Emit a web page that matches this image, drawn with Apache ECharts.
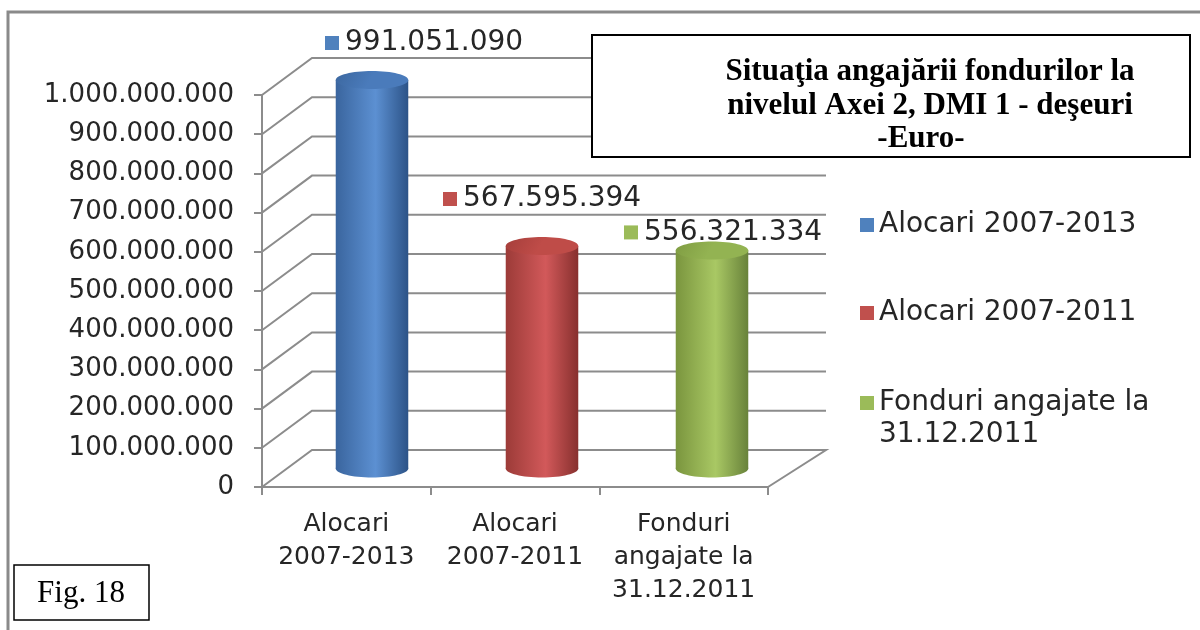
<!DOCTYPE html>
<html>
<head>
    <meta charset="utf-8">
    <title>Fig. 18</title>
    <script src="https://cdn.jsdelivr.net/npm/echarts@6/dist/echarts.min.js"></script>
    <style>html, body { margin: 0; background: #fff; }</style>
</head>
<body>
    <div id="main" style="width: 1200px;height:630px;"></div>
    <script type="text/javascript">
        var categories = ['Alocari\n2007-2013', 'Alocari\n2007-2011', 'Fonduri\nangajate la\n31.12.2011'];
        var seriesNames = ['Alocari 2007-2013', 'Alocari 2007-2011', 'Fonduri angajate la\n31.12.2011'];
        var values = [991051090, 567595394, 556321334];
        var yTicks = [0, 100000000, 200000000, 300000000, 400000000, 500000000,
                      600000000, 700000000, 800000000, 900000000, 1000000000];

        // styles
        var colors = ['#4f81bd', '#c0504d', '#9bbb59'];
        var bodyStops = [
            ['#3a659e', '#5c90d2', '#2c5387'],
            ['#9c3b38', '#d2595a', '#87302e'],
            ['#7a953e', '#a9c864', '#68823a']
        ];
        var topColors = [['#3c679f', '#4a7bbb'], ['#a53e3b', '#bf4c48'], ['#7f9c42', '#93b352']];
        var labelOffsets = [[-40, -37], [-92, -47], [-81, -18]];
        var gridColor = '#8c8c8c';
        var font = 'DejaVu Sans';

        function fmt(v) {
            return String(v).replace(/\B(?=(\d{3})+(?!\d))/g, '.');
        }

        // oblique depth of the 3d box, a bit wider on the right side
        function depth(x, rect) {
            var t = (x - rect.x) / rect.width;
            return [50 + 8 * t, -37];
        }

        function renderWall(params, api) {
            var rect = params.coordSys;
            var v = api.value(1);
            var y = api.coord([0, v])[1];
            var xl = rect.x, xr = rect.x + rect.width;
            var dl = depth(xl, rect), dr = depth(xr, rect);
            var pts = [[xl, y], [xl + dl[0], y + dl[1]], [xr + dr[0], y + dr[1]]];
            if (v === 0) pts.push([xr, y]);
            return {
                type: 'polyline',
                shape: { points: pts },
                style: { stroke: gridColor, lineWidth: 2, fill: null }
            };
        }

        function makeCylinder(k) {
            return function (params, api) {
                var rect = params.coordSys;
                var top = api.coord([api.value(0), api.value(1)]);
                var base = api.coord([api.value(0), 0]);
                var band = api.size([1, 0])[0];
                var d = depth(top[0], rect);
                var cx = top[0] + d[0] / 2;
                var ty = top[1] + d[1] / 2;
                var by = base[1] + d[1] / 2;
                var rx = band * 0.215, ry = 9;
                var s = bodyStops[k];
                var body = {
                    type: 'linear', x: 0, y: 0, x2: 1, y2: 0,
                    colorStops: [
                        { offset: 0, color: s[0] },
                        { offset: 0.55, color: s[1] },
                        { offset: 1, color: s[2] }
                    ]
                };
                var topFill = {
                    type: 'linear', x: 0, y: 0, x2: 0.4, y2: 1,
                    colorStops: [
                        { offset: 0, color: topColors[k][0] },
                        { offset: 1, color: topColors[k][1] }
                    ]
                };
                var lx = cx + labelOffsets[k][0];
                var ly = ty + labelOffsets[k][1];
                return {
                    type: 'group',
                    children: [
                        { type: 'ellipse', shape: { cx: cx, cy: by, rx: rx, ry: ry }, style: { fill: body } },
                        { type: 'rect', shape: { x: cx - rx, y: ty, width: 2 * rx, height: by - ty }, style: { fill: body } },
                        { type: 'ellipse', shape: { cx: cx, cy: ty, rx: rx, ry: ry }, style: { fill: topFill } },
                        { type: 'rect', shape: { x: lx - 7, y: ly - 7, width: 14, height: 14 }, style: { fill: colors[k] } },
                        {
                            type: 'text', x: lx + 13, y: ly,
                            style: {
                                text: fmt(api.value(1)), fontSize: 28, fontFamily: font,
                                fill: '#262626', verticalAlign: 'middle', align: 'left'
                            }
                        }
                    ]
                };
            };
        }

        var myChart = echarts.init(document.getElementById('main'));

        var series = [{
            type: 'custom',
            name: 'wall',
            clip: false,
            silent: true,
            z: 1,
            renderItem: renderWall,
            data: yTicks.map(function (v) { return [0, v]; })
        }];
        values.forEach(function (v, i) {
            series.push({
                type: 'custom',
                name: seriesNames[i],
                clip: false,
                z: 3,
                itemStyle: { color: colors[i] },
                renderItem: makeCylinder(i),
                data: [[i, v]]
            });
        });

        var legendText = { fontSize: 28, fontFamily: font, color: '#262626', lineHeight: 32 };

        var option = {
            animation: false,
            backgroundColor: '#fff',
            grid: { left: 262, top: 95, width: 506, height: 392 },
            xAxis: {
                type: 'category',
                data: categories,
                axisLine: { lineStyle: { color: gridColor, width: 2 } },
                axisTick: { show: true, length: 8, lineStyle: { color: gridColor, width: 2 } },
                axisLabel: {
                    interval: 0, margin: 21, fontSize: 25, fontFamily: font,
                    color: '#262626', lineHeight: 33
                },
                splitLine: { show: false }
            },
            yAxis: {
                type: 'value',
                min: 0,
                max: 1000000000,
                interval: 100000000,
                axisLine: { show: true, lineStyle: { color: gridColor, width: 2 } },
                axisTick: { show: true, length: 8, lineStyle: { color: gridColor, width: 2 } },
                axisLabel: {
                    formatter: fmt, margin: 28, fontSize: 26, fontFamily: font, color: '#262626'
                },
                splitLine: { show: false }
            },
            legend: [{
                data: [seriesNames[0], seriesNames[1]],
                orient: 'vertical',
                left: 855,
                top: 204,
                itemGap: 56,
                itemWidth: 14,
                itemHeight: 14,
                icon: 'rect',
                selectedMode: false,
                textStyle: legendText
            }, {
                // blank line on top keeps the icon level with the first text line
                data: [seriesNames[2]],
                orient: 'vertical',
                left: 855,
                top: 350,
                itemWidth: 14,
                itemHeight: 14,
                icon: 'rect',
                selectedMode: false,
                formatter: function (name) { return '\u00a0\n' + name; },
                textStyle: legendText
            }],
            graphic: [
                {
                    type: 'polyline', silent: true, z: 0,
                    shape: { points: [[8, 630], [8, 12], [1200, 12]] },
                    style: { stroke: '#8a8a8a', lineWidth: 3, fill: null }
                },
                {
                    type: 'rect', z: 10,
                    shape: { x: 592, y: 35, width: 598, height: 122 },
                    style: { fill: '#fff', stroke: '#000', lineWidth: 2 }
                },
                {
                    type: 'text', z: 11, x: 930, y: 55,
                    style: {
                        text: 'Situaţia angajării fondurilor la\nnivelul Axei 2, DMI 1 - deşeuri',
                        fontSize: 31, fontWeight: 'bold', fontFamily: 'Liberation Serif',
                        lineHeight: 34, align: 'center', verticalAlign: 'top', fill: '#000'
                    }
                },
                {
                    type: 'text', z: 11, x: 921, y: 122,
                    style: {
                        text: '-Euro-',
                        fontSize: 31, fontWeight: 'bold', fontFamily: 'Liberation Serif',
                        lineHeight: 34, align: 'center', verticalAlign: 'top', fill: '#000'
                    }
                },
                {
                    type: 'rect', z: 10,
                    shape: { x: 14, y: 565, width: 135, height: 55 },
                    style: { fill: '#fff', stroke: '#000', lineWidth: 1.5 }
                },
                {
                    type: 'text', z: 11, x: 81, y: 594,
                    style: {
                        text: 'Fig. 18', fontSize: 31, fontFamily: 'Liberation Serif',
                        align: 'center', verticalAlign: 'middle', fill: '#000'
                    }
                }
            ],
            series: series
        };

        myChart.setOption(option);
    </script>
</body>
</html>
